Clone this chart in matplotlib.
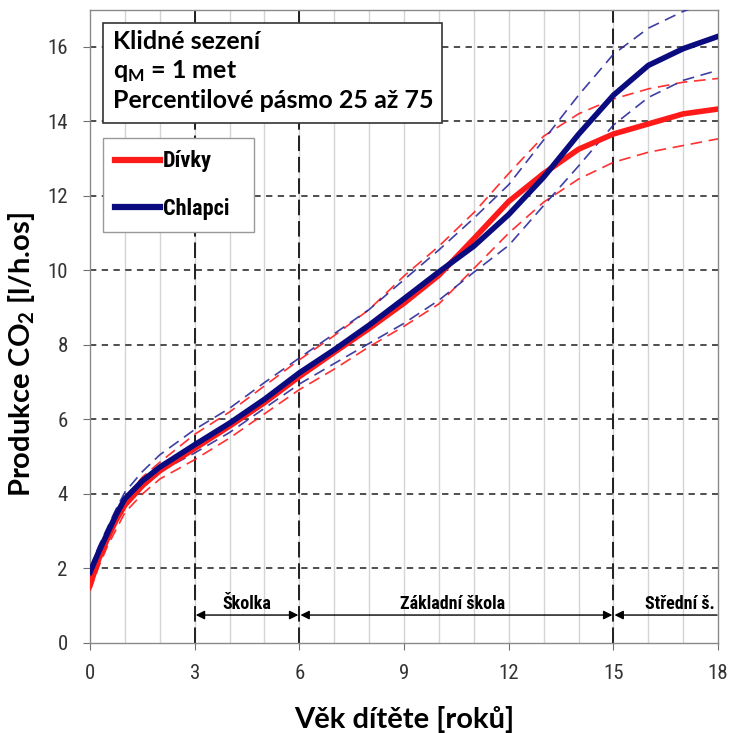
import numpy as np
import matplotlib
matplotlib.use("Agg")
from matplotlib import pyplot as plt
from matplotlib import font_manager as fm
from matplotlib.patches import Rectangle


def has_bold(name):
    return any(f.name == name and isinstance(f.weight, int) and f.weight >= 600
               or f.name == name and f.weight in ("bold", "semibold", "demibold", "heavy", "black")
               for f in fm.fontManager.ttflist)


# Fonts: a condensed face for ticks/legend, a normal face for box and axis labels
cond_prefs = ['Roboto Condensed', 'Fira Sans Condensed', 'PT Sans Narrow', 'Liberation Sans Narrow',
              'Liberation Sans']
main_prefs = ['Source Sans Pro', 'Lato', 'Open Sans', 'Liberation Sans']
cond_font = next((f for f in cond_prefs if has_bold(f)), 'DejaVu Sans')
main_font = next((f for f in main_prefs if has_bold(f)), 'DejaVu Sans')
plt.rcParams['font.family'] = [cond_font, 'DejaVu Sans']
plt.rcParams['mathtext.fontset'] = 'custom'
plt.rcParams['mathtext.rm'] = main_font + ':bold'
plt.rcParams['mathtext.default'] = 'rm'

# Age of the child [years]
age = [0, 0.25, 0.5, 0.75, 1, 1.5, 2, 3, 4, 5, 6, 7, 8, 9, 10, 11, 12, 13, 14, 15, 16, 17, 18]

# CO2 production [l/h per person] - girls (mean, 25th and 75th percentile)
girls_mean = [1.55, 2.25, 2.8, 3.3, 3.7, 4.22, 4.62, 5.22, 5.82, 6.45, 7.15, 7.8, 8.44, 9.12,
              9.87, 10.85, 11.85, 12.6, 13.25, 13.66, 13.93, 14.2, 14.33]
girls_p75 = [1.7, 2.4, 2.95, 3.45, 3.9, 4.45, 4.85, 5.6, 6.2, 6.9, 7.6, 8.25, 8.95, 9.85,
             10.65, 11.55, 12.6, 13.6, 14.2, 14.6, 14.87, 15.05, 15.15]
girls_p25 = [1.4, 2.05, 2.6, 3.05, 3.5, 4.0, 4.4, 4.92, 5.5, 6.15, 6.8, 7.35, 7.95, 8.5,
             9.1, 10.05, 11.0, 11.83, 12.45, 12.9, 13.17, 13.35, 13.53]

# CO2 production [l/h per person] - boys
boys_mean = [1.9, 2.45, 2.95, 3.45, 3.87, 4.35, 4.72, 5.32, 5.9, 6.54, 7.25, 7.87, 8.53, 9.24,
             9.96, 10.65, 11.5, 12.5, 13.65, 14.7, 15.5, 15.95, 16.28]
boys_p75 = [2.0, 2.6, 3.1, 3.6, 4.05, 4.6, 5.05, 5.73, 6.3, 6.99, 7.65, 8.3, 8.95, 9.75,
            10.55, 11.4, 12.3, 13.5, 14.7, 15.8, 16.5, 16.95, 17.3]
boys_p25 = [1.75, 2.35, 2.85, 3.3, 3.7, 4.2, 4.6, 5.1, 5.65, 6.3, 6.95, 7.5, 8.04, 8.58,
            9.2, 9.95, 10.67, 11.74, 12.8, 13.9, 14.64, 15.1, 15.37]

# School periods
periods = ["Školka", "Základní škola", "Střední š."]
period_bounds = [3, 6, 15, 18]

info_lines = ["Klidné sezení", "q$_M$ = 1 met", "Percentilové pásmo 25 až 75"]

red = "#ff1a1a"
navy = "#0b0b80"

fig = plt.figure(figsize=(7.32, 7.33), dpi=100)
ax = fig.add_axes([0.123, 0.1228, 0.858, 0.8642])

# grid: light vertical lines every year, dashed horizontals every 2
for x in range(1, 18):
    ax.axvline(x, color="#d4d4d4", lw=1.0, zorder=0)
for y in range(2, 17, 2):
    ax.axhline(y, color="#404040", lw=1.3, ls=(0, (3.5, 3)), zorder=1)
for x in period_bounds[:3]:
    ax.axvline(x, color="#202020", lw=1.4, ls=(0, (8, 3)), zorder=1)

# percentile bands (dashed)
ax.plot(age, girls_p75, color=red, lw=1.2, ls=(0, (7, 4)), alpha=0.9, zorder=3)
ax.plot(age, girls_p25, color=red, lw=1.2, ls=(0, (7, 4)), alpha=0.9, zorder=3)
ax.plot(age, boys_p75, color="#2a2a9a", lw=1.2, ls=(0, (7, 4)), alpha=0.9, zorder=3)
ax.plot(age, boys_p25, color="#2a2a9a", lw=1.2, ls=(0, (7, 4)), alpha=0.9, zorder=3)

# means
ax.plot(age, girls_mean, color=red, lw=4, label="Dívky", zorder=4)
ax.plot(age, boys_mean, color=navy, lw=4, label="Chlapci", zorder=5)

# school period arrows
arrow_y = 0.75
for i, name in enumerate(periods):
    x0, x1 = period_bounds[i], period_bounds[i + 1]
    style = "<|-|>" if i < 2 else "<|-"
    ax.annotate("", xy=(x1 - 0.03, arrow_y), xytext=(x0 + 0.03, arrow_y),
                arrowprops=dict(arrowstyle=style, color="black", lw=1.0,
                                mutation_scale=13, shrinkA=0, shrinkB=0), zorder=6)
ax.text(4.5, 0.9, periods[0], ha="center", va="baseline", fontsize=13, fontweight="bold", zorder=6)
ax.text(10.4, 0.9, periods[1], ha="center", va="baseline", fontsize=13, fontweight="bold", zorder=6)
ax.text(17.9, 0.9, periods[2], ha="right", va="baseline", fontsize=13, fontweight="bold", zorder=6)

ax.set_xlim(0, 18)
ax.set_ylim(0, 17)
ax.set_xticks(np.arange(0, 19, 3))
ax.set_yticks(np.arange(0, 17, 2))
ax.tick_params(axis="both", direction="out", length=5, color="#707070",
               labelsize=15, labelcolor="#333333")
ax.tick_params(axis="x", pad=10)
ax.tick_params(axis="y", pad=11)
for s in ax.spines.values():
    s.set_color("#8a8a8a")
    s.set_linewidth(1.0)

ax.set_xlabel("Věk dítěte [roků]", fontsize=21, fontweight="bold", labelpad=17, family=main_font)
ax.set_ylabel("Produkce CO$_2$ [l/h.os]", fontsize=21, fontweight="bold", family=main_font)
ax.yaxis.set_label_coords(-0.084, 0.456)

# info box
ax.add_patch(Rectangle((0.0207, 0.8208), 0.5398, 0.1579, transform=ax.transAxes,
                       fc="white", ec="#333333", lw=1.2, zorder=10))
for line, yb in zip(info_lines, [0.9377, 0.8918, 0.8445]):
    ax.text(0.0366, yb, line, transform=ax.transAxes, ha="left", va="baseline",
            fontsize=18, fontweight="bold", family=main_font, zorder=11)

leg = ax.legend(loc="upper left", bbox_to_anchor=(0.0207, 0.60, 0.2404, 0.197), mode="expand",
                frameon=True, fancybox=False, edgecolor="#999999", framealpha=1,
                prop=dict(size=16, weight="bold"), handlelength=2.0, handletextpad=0.15,
                labelspacing=1.15, borderpad=0.55, borderaxespad=0)
leg.set_zorder(10)
leg.get_frame().set_linewidth(1.0)
for h in leg.get_lines():
    h.set_linewidth(4.5)

fig.savefig("out.png", dpi=100)
